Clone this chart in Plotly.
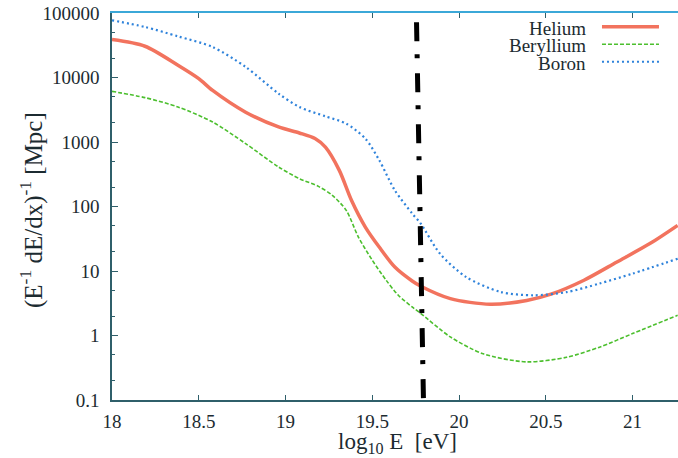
import plotly.graph_objects as go

helium_x = [18.0, 18.19, 18.38, 18.5, 18.58, 18.77, 18.96, 19.08, 19.17, 19.23, 19.31, 19.38, 19.46, 19.54, 19.63, 19.73, 19.78, 19.95, 20.18, 20.39, 20.53, 20.72, 20.91, 21.1, 21.26]
helium_y = [38700, 30500, 15500, 9600, 6300, 2900, 1710, 1380, 1130, 830, 363, 125, 48, 23.5, 11.5, 7.0, 5.8, 3.73, 3.05, 3.5, 4.37, 7.2, 13.8, 26.6, 51]

beryllium_x = [18.0, 18.19, 18.38, 18.58, 18.77, 18.96, 19.08, 19.19, 19.27, 19.35, 19.42, 19.5, 19.58, 19.65, 19.73, 19.78, 19.95, 20.14, 20.39, 20.62, 20.81, 21.0, 21.26]
beryllium_y = [6100, 4880, 3490, 2040, 944, 410, 270, 205, 149, 87, 33.6, 14.7, 7.2, 4.2, 2.77, 2.19, 0.95, 0.52, 0.39, 0.46, 0.66, 1.07, 2.06]

boron_x = [18.0, 18.19, 18.38, 18.58, 18.77, 18.96, 19.08, 19.23, 19.35, 19.46, 19.54, 19.63, 19.73, 19.78, 19.89, 20.04, 20.24, 20.43, 20.62, 20.81, 21.0, 21.26]
boron_y = [77100, 60700, 43500, 29700, 14600, 5620, 3490, 2500, 1930, 1130, 524, 178, 78, 54, 18.6, 8.1, 4.73, 4.2, 4.7, 6.4, 9.1, 15.5]

vline_x = [19.755, 19.795]
vline_y = [72000, 0.1]

x_ticks = [18, 18.5, 19, 19.5, 20, 20.5, 21]
x_tick_labels = ["18", "18.5", "19", "19.5", "20", "20.5", "21"]
y_ticks = [0.1, 1, 10, 100, 1000, 10000, 100000]
y_tick_labels = ["0.1", "1", "10", "100", "1000", "10000", "100000"]

x_title = "log<sub>10</sub> E  [eV]"
y_title = "(E<sup>-1</sup> dE/dx)<sup>-1</sup> [Mpc]"

series_names = ["Helium", "Beryllium", "Boron"]
series_colors = ["#f2735e", "#4cbf2e", "#2f83db"]

FONT = "Liberation Serif"
TXT = "#1c2b31"
AX = "#2f5f6a"

fig = go.Figure()
fig.add_trace(go.Scatter(x=helium_x, y=helium_y, mode="lines", line=dict(color=series_colors[0], width=3.5, shape="spline", smoothing=0.8), showlegend=False))
fig.add_trace(go.Scatter(x=beryllium_x, y=beryllium_y, mode="lines", line=dict(color=series_colors[1], width=1.6, dash="4px,2px", shape="spline", smoothing=0.8), showlegend=False))
fig.add_trace(go.Scatter(x=boron_x, y=boron_y, mode="lines", line=dict(color=series_colors[2], width=2.2, dash="2px,3px", shape="spline", smoothing=0.8), showlegend=False))
fig.add_trace(go.Scatter(x=vline_x, y=vline_y, mode="lines", line=dict(color="black", width=5, dash="19px,13px,4px,15px"), showlegend=False))

# legend built manually (text right-aligned, sample on right)
leg_y = [0.9605, 0.9153, 0.870]
dashes = ["solid", "4px,2px", "2px,3px"]
widths = [3.5, 1.6, 2.2]
for name, col, yy, d, w in zip(series_names, series_colors, leg_y, dashes, widths):
    fig.add_annotation(xref="paper", yref="paper", x=0.841, y=yy, text=name, showarrow=False,
                       xanchor="right", yanchor="middle", font=dict(family=FONT, size=19, color=TXT))
    fig.add_shape(type="line", xref="paper", yref="paper", x0=0.8657, x1=0.9664, y0=yy + 0.004, y1=yy + 0.004,
                  line=dict(color=col, width=w, dash=d))

# axis titles as positioned annotations
fig.add_annotation(xref="paper", yref="paper", x=0.505, y=-0.111, text=x_title, showarrow=False,
                   xanchor="center", yanchor="middle", font=dict(family=FONT, size=23, color=TXT))
fig.add_annotation(xref="paper", yref="paper", x=-0.142, y=0.49, text=y_title, showarrow=False, textangle=-90,
                   xanchor="center", yanchor="middle", font=dict(family=FONT, size=25, color=TXT))

fig.update_layout(
    width=678, height=458,
    margin=dict(l=112, r=0, t=13, b=58),
    paper_bgcolor="white", plot_bgcolor="white",
    font=dict(family=FONT, size=19, color=TXT),
    xaxis=dict(range=[18, 21.262], tickvals=x_ticks, ticktext=x_tick_labels, ticks="inside", ticklen=5,
               tickcolor=AX, showline=True, linecolor=AX, linewidth=1.5, showgrid=False, zeroline=False,
               ticklabelstandoff=3),
    xaxis2=dict(range=[18, 21.262], overlaying="x", side="top", tickvals=x_ticks, ticks="inside", ticklen=5,
                tickcolor=AX, showticklabels=False, showline=True, linecolor="#3ba8d8", linewidth=2,
                showgrid=False, zeroline=False),
    yaxis=dict(type="log", range=[-1, 5], tickvals=y_ticks, ticktext=y_tick_labels, ticks="inside", ticklen=6,
               tickcolor=AX, showline=True, linecolor=AX, linewidth=1.5, showgrid=False, zeroline=False,
               ticklabelstandoff=7,
               minor=dict(tickvals=[v * m for v in y_ticks[:-1] for m in (2, 5)], ticks="inside", ticklen=3, tickcolor=AX)),
)
fig.add_trace(go.Scatter(x=[18], y=[1], xaxis="x2", mode="markers", marker=dict(opacity=0), showlegend=False, hoverinfo="skip"))

fig.write_html("out.html", config={"displayModeBar": False},
               post_script="document.body.style.margin='0';document.body.style.overflow='hidden';")
